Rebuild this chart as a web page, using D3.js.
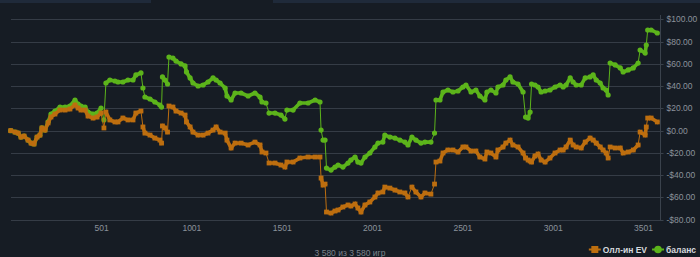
<!DOCTYPE html>
<html lang="ru">
<head>
<meta charset="UTF-8">
<title>Олл-ин EV / баланс</title>
<script src="https://d3js.org/d3.v7.min.js"></script>
<style>
    body {
        margin: 0;
        background-color: #161c24;
        font-family: "Liberation Sans", Arial, sans-serif;
        overflow: hidden;
    }
    .axis text { fill: #8b929b; font-size: 8.5px; }
    .axis path, .axis line { stroke: #3a424c; }
</style>
</head>
<body>
<svg id="chart" width="700" height="257"></svg>
<script>
// game number of each sample
const games = [1, 25, 42, 58, 75, 97, 114, 130, 147, 163, 174, 191, 208, 224, 246, 274, 302, 329, 357, 374,
    390, 413, 429, 457, 479, 501, 517, 528, 550, 578, 595, 622, 650, 678, 694, 722, 733, 744, 772, 799,
    827, 836, 841, 855, 869, 877, 899, 916, 944, 966, 974, 994, 1010, 1038, 1066, 1093, 1121, 1138, 1160, 1188,
    1198, 1221, 1243, 1276, 1315, 1353, 1381, 1392, 1414, 1431, 1464, 1497, 1519, 1530, 1564, 1602, 1647, 1686, 1713, 1719,
    1730, 1741, 1749, 1774, 1796, 1813, 1840, 1868, 1884, 1907, 1923, 1940, 1962, 1989, 2017, 2034, 2061, 2072, 2100, 2128,
    2155, 2183, 2200, 2222, 2244, 2272, 2294, 2327, 2347, 2355, 2377, 2394, 2421, 2449, 2477, 2504, 2521, 2549, 2576, 2598,
    2626, 2637, 2659, 2687, 2698, 2726, 2742, 2765, 2781, 2809, 2837, 2851, 2865, 2876, 2884, 2903, 2920, 2937, 2959, 2986,
    3014, 3042, 3059, 3075, 3098, 3114, 3131, 3159, 3181, 3208, 3225, 3242, 3264, 3280, 3297, 3308, 3319, 3347, 3375, 3391,
    3419, 3447, 3474, 3485, 3513, 3519, 3527, 3546, 3580];

// all-in adjusted EV, $
const allinEV = [0, -1.3, -2.2, -5.8, -4.9, -8.5, -11.2, -12.0, -5.8, -4.0, 2.4, 0.5, 6.9, 12.2, 14.9, 18.5, 18.5, 19.4, 23.0, 20.3,
    18.5, 18.5, 13.1, 11.3, 12.2, 15.8, 2.4, 16.7, 9.6, 7.8, 7.8, 11.3, 9.6, 9.6, 15.8, 17.6, 3.3, -2.2, -4.0, -6.7,
    -8.5, -11.2, 4.2, 2.4, -1.3, 22.1, 21.2, 17.6, 15.8, 14.0, 7.8, 3.3, -1.3, -4.0, -4.0, -2.2, 0.5, 3.3, -1.3, -2.2,
    -8.5, -15.6, -11.2, -11.2, -12.9, -10.3, -12.9, -19.2, -20.1, -29.1, -29.1, -30.9, -32.7, -28.2, -28.2, -24.6, -23.7, -23.7, -23.7, -42.6,
    -48.9, -48.0, -73.1, -74.0, -72.2, -71.3, -68.6, -66.8, -67.7, -65.9, -69.5, -73.1, -66.8, -64.1, -59.6, -56.0, -55.1, -50.7, -51.6, -53.4,
    -55.1, -56.0, -59.6, -50.7, -55.1, -59.6, -56.0, -57.0, -48.0, -28.2, -27.3, -20.1, -17.4, -17.4, -19.2, -14.7, -14.7, -18.3, -18.3, -23.7,
    -25.5, -19.2, -20.1, -23.7, -17.4, -14.7, -11.2, -8.5, -12.9, -14.7, -20.1, -24.6, -26.4, -27.3, -28.2, -22.8, -21.0, -26.4, -28.2, -24.6,
    -20.1, -17.4, -17.4, -14.7, -8.5, -12.9, -14.7, -15.6, -10.3, -6.7, -8.5, -11.2, -14.7, -17.4, -20.1, -24.6, -14.7, -15.6, -15.6, -20.1,
    -19.2, -17.4, -12.9, -1.3, -4.0, 3.3, 11.3, 11.3, 7.8];

// actual balance, $
const balance = [0, -1.3, -2.2, -5.8, -4.9, -8.5, -11.2, -12.0, -5.8, -4.0, 2.4, 0.5, 7.8, 14.9, 17.6, 21.2, 21.2, 22.1, 27.5, 23.9,
    22.1, 21.2, 16.7, 14.9, 15.8, 20.3, 9.6, 42.8, 45.5, 44.6, 43.7, 43.7, 45.5, 45.5, 50.0, 51.8, 38.3, 30.2, 28.4, 25.7,
    23.0, 21.2, 48.2, 45.5, 41.9, 66.1, 65.2, 62.5, 59.9, 58.1, 52.7, 47.3, 42.8, 40.1, 41.0, 43.7, 47.3, 45.5, 42.8, 38.3,
    31.1, 27.5, 33.8, 33.8, 31.1, 33.8, 30.2, 25.7, 24.8, 15.8, 15.8, 14.0, 10.4, 18.5, 18.5, 24.8, 24.8, 27.5, 25.7, 0.5,
    -8.5, -8.5, -33.6, -35.4, -32.7, -30.9, -32.7, -29.1, -26.4, -23.7, -28.2, -29.1, -23.7, -20.1, -14.7, -11.2, -10.3, -4.0, -5.8, -6.7,
    -8.5, -10.3, -12.9, -5.8, -8.5, -11.2, -10.3, -10.3, -2.2, 27.5, 27.5, 34.7, 36.5, 34.7, 35.6, 39.2, 41.0, 34.7, 36.5, 31.1,
    27.5, 34.7, 36.5, 33.8, 39.2, 41.0, 45.5, 48.2, 43.7, 41.9, 34.7, 12.2, 11.3, 16.7, 41.9, 41.0, 39.2, 34.7, 35.6, 36.5,
    39.2, 41.0, 39.2, 41.0, 47.3, 43.7, 41.0, 41.0, 47.3, 48.2, 50.0, 45.5, 42.8, 38.3, 36.5, 32.0, 60.7, 59.0, 56.3, 52.7,
    54.5, 56.3, 60.7, 72.4, 69.7, 76.9, 90.4, 90.4, 87.7];

const xTicks = [501, 1001, 1501, 2001, 2501, 3001, 3501];
const yTicks = [-80, -60, -40, -20, 0, 20, 40, 60, 80, 100];
const seriesNames = ["Олл-ин EV", "баланс"];
const gamesLabel = "3 580 из 3 580 игр";

const evColor = "#bd6e0f";
const balColor = "#5cb41b";

const svg = d3.select("#chart");

// top tab strip
svg.append("rect").attr("x", 0).attr("y", 0).attr("width", 151).attr("height", 3).attr("fill", "#1f2a3a");
svg.append("rect").attr("x", 273).attr("y", 0).attr("width", 427).attr("height", 3).attr("fill", "#1f2a3a");

const x = d3.scaleLinear().domain([1, 3595]).range([10.7, 660]);
const y = d3.scaleLinear().domain([-80, 100]).range([219.7, 19.3]);

// grid lines
svg.append("g")
    .selectAll("line")
    .data(yTicks)
    .join("line")
    .attr("x1", 11).attr("x2", 660)
    .attr("y1", d => Math.round(y(d)) + 0.5)
    .attr("y2", d => Math.round(y(d)) + 0.5)
    .attr("stroke", "#353c46")
    .attr("stroke-width", 1);

const money = d => (d < 0 ? "-$" : "$") + Math.abs(d).toFixed(2);

const yAxis = svg.append("g")
    .attr("class", "axis")
    .attr("transform", "translate(660.5,0)")
    .call(d3.axisRight(y).tickValues(yTicks).tickFormat(money).tickSize(3).tickPadding(3));
yAxis.select(".domain").attr("d", "M0,15V" + (Math.round(y(-80)) + 1));
yAxis.selectAll(".tick").attr("transform", d => "translate(0," + (Math.round(y(d)) + 0.5) + ")");

const xAxis = svg.append("g")
    .attr("class", "axis")
    .attr("transform", "translate(0," + (Math.round(y(-80)) + 0.5) + ")")
    .call(d3.axisBottom(x).tickValues(xTicks).tickFormat(d3.format("d")).tickSize(0).tickPadding(4));
xAxis.select(".domain").remove();

function drawSeries(values, color, shape) {
    const pts = games.map((g, i) => [g, values[i]]);
    const line = d3.line().x(d => x(d[0])).y(d => y(d[1]));
    const g = svg.append("g");
    // thin connector (shows on single-hand jumps)
    g.append("path")
        .datum(pts)
        .attr("d", line)
        .attr("fill", "none")
        .attr("stroke", color)
        .attr("stroke-width", 1);
    // dense marker band between neighbouring points that are not jumps
    const segs = d3.pairs(pts).filter(([a, b]) => Math.abs(y(a[1]) - y(b[1])) < 8.5);
    g.selectAll("line.band")
        .data(segs)
        .join("line")
        .attr("class", "band")
        .attr("x1", d => x(d[0][0])).attr("y1", d => y(d[0][1]))
        .attr("x2", d => x(d[1][0])).attr("y2", d => y(d[1][1]))
        .attr("stroke", color)
        .attr("stroke-width", 3.6)
        .attr("stroke-linecap", shape === "square" ? "square" : "round");
    if (shape === "square") {
        g.selectAll("rect")
            .data(pts)
            .join("rect")
            .attr("x", d => x(d[0]) - 2.4)
            .attr("y", d => y(d[1]) - 2.4)
            .attr("width", 4.8)
            .attr("height", 4.8)
            .attr("fill", color);
    } else {
        g.selectAll("circle")
            .data(pts)
            .join("circle")
            .attr("cx", d => x(d[0]))
            .attr("cy", d => y(d[1]))
            .attr("r", 2.6)
            .attr("fill", color);
    }
}

drawSeries(balance, balColor, "circle");
drawSeries(allinEV, evColor, "square");

// legend, laid out from the right edge
const legend = svg.append("g").attr("font-size", "8.5px").attr("font-weight", "bold").attr("fill", "#d6d9de");
const t2 = legend.append("text").attr("text-anchor", "end").attr("x", 696).attr("y", 252.5).text(seriesNames[1]);
const t2start = 696 - t2.node().getComputedTextLength();
const c2 = t2start - 8;
legend.append("line").attr("x1", c2 - 6).attr("x2", c2 + 6).attr("y1", 249.5).attr("y2", 249.5).attr("stroke", balColor).attr("stroke-width", 2);
legend.append("circle").attr("cx", c2).attr("cy", 249.5).attr("r", 3.8).attr("fill", balColor);
const t1end = c2 - 11;
const t1 = legend.append("text").attr("text-anchor", "end").attr("x", t1end).attr("y", 252.5).text(seriesNames[0]);
const c1 = t1end - t1.node().getComputedTextLength() - 8;
legend.append("line").attr("x1", c1 - 6).attr("x2", c1 + 6).attr("y1", 249.5).attr("y2", 249.5).attr("stroke", evColor).attr("stroke-width", 2);
legend.append("rect").attr("x", c1 - 3.5).attr("y", 246).attr("width", 7).attr("height", 7).attr("fill", evColor);

svg.append("text")
    .attr("x", 350).attr("y", 255.5)
    .attr("text-anchor", "middle")
    .attr("font-size", "8.5px")
    .attr("fill", "#7c838c")
    .text(gamesLabel);
</script>
</body>
</html>
